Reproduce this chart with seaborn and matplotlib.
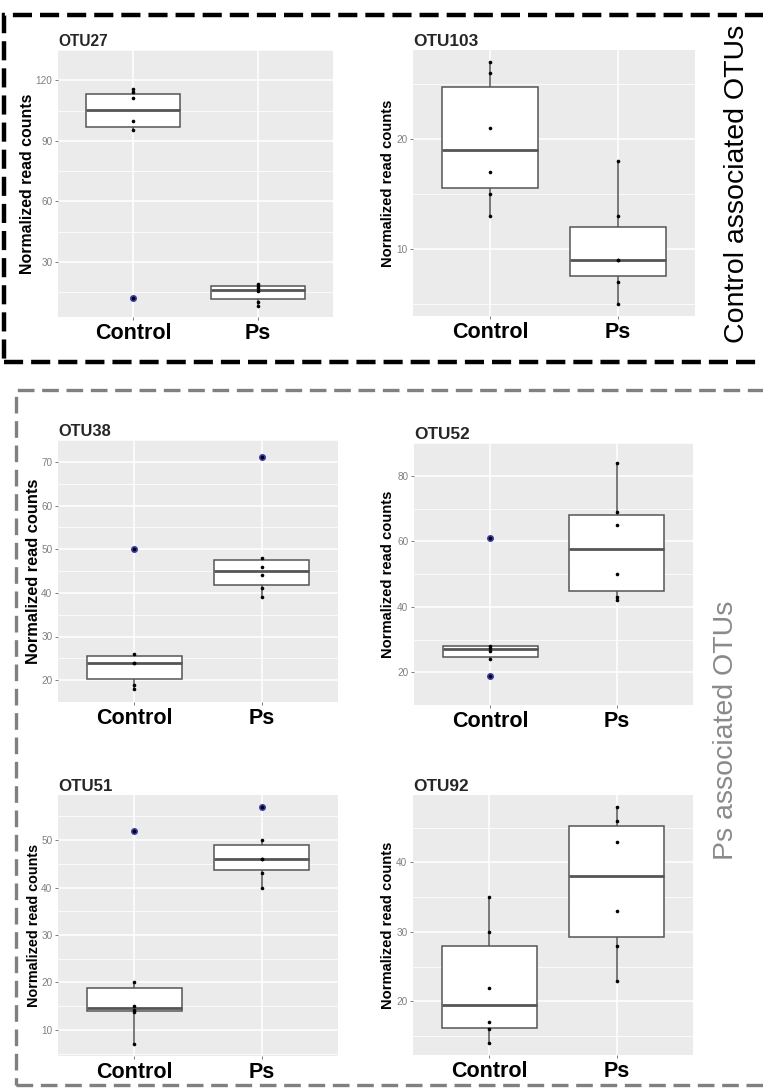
import numpy as np
import pandas as pd
import matplotlib
matplotlib.use("Agg")
import matplotlib.pyplot as plt
from matplotlib.patches import Rectangle
import seaborn as sns

# ---------------- data ----------------
groups = ["Control", "Ps"]
otu_names = ["OTU27", "OTU103", "OTU38", "OTU52", "OTU51", "OTU92"]

otu27_control = [12, 95.5, 100, 111, 114, 115.5]
otu27_ps = [8, 10, 15.5, 17, 18, 19]
otu103_control = [13, 15, 17, 21, 26, 27]
otu103_ps = [5, 7, 9, 9, 13, 18]
otu38_control = [18, 19, 24, 24, 26, 50]
otu38_ps = [39, 41, 44, 46, 48, 71]
otu52_control = [19, 24, 26.5, 27.5, 28, 61]
otu52_ps = [42, 43, 50, 65, 69, 84]
otu51_control = [7, 13.8, 14.2, 15, 20, 52]
otu51_ps = [40, 43, 46, 46, 50, 57]
otu92_control = [14, 16, 17, 22, 30, 35]
otu92_ps = [23, 28, 33, 43, 46, 48]

control_values = [otu27_control, otu103_control, otu38_control,
                  otu52_control, otu51_control, otu92_control]
ps_values = [otu27_ps, otu103_ps, otu38_ps, otu52_ps, otu51_ps, otu92_ps]

yticks_otu27 = [30, 60, 90, 120]
yticks_otu103 = [10, 20]
yticks_otu38 = [20, 30, 40, 50, 60, 70]
yticks_otu52 = [20, 40, 60, 80]
yticks_otu51 = [10, 20, 30, 40, 50]
yticks_otu92 = [20, 30, 40]
yticks_all = [yticks_otu27, yticks_otu103, yticks_otu38,
              yticks_otu52, yticks_otu51, yticks_otu92]

ylabel_text = "Normalized read counts"
group_labels = ["Control associated OTUs", "Ps associated OTUs"]

# ---------------- style ----------------
W, H = 763, 1089
sns.set_theme(style="darkgrid", rc={"axes.facecolor": "#EBEBEB",
                                    "grid.color": "white"})
plt.rcParams["font.family"] = ["Liberation Sans", "DejaVu Sans"]

fig = plt.figure(figsize=(W / 100, H / 100), dpi=100)
fig.patch.set_facecolor("white")

# panel boxes in pixels: left, top, right, bottom
panel_px = [(58, 50, 333, 317), (413, 50, 695, 316),
            (58, 440, 338, 702), (414, 443, 693, 705),
            (58, 795, 338, 1056), (413, 795, 693, 1055)]
label_x = [-0.111, -0.089, -0.086, -0.093, -0.086, -0.091]
label_fs = [11.4, 10.6, 11.8, 10.6, 10.4, 10.6]
title_fs = [11.2, 12.4, 11.8, 12.4, 12.2, 12.4]

line_col = "#555555"
outlier_col = "#3A3AA6"

for i, name in enumerate(otu_names):
    l, t, r, b = panel_px[i]
    ax = fig.add_axes([l / W, 1 - b / H, (r - l) / W, (b - t) / H])
    c = control_values[i]
    p = ps_values[i]
    df = pd.DataFrame({"group": [groups[0]] * len(c) + [groups[1]] * len(p),
                       "value": list(c) + list(p)})
    sns.boxplot(data=df, x="group", y="value", order=groups, ax=ax,
                width=0.75, color="white", saturation=1,
                linecolor=line_col, linewidth=1.1, showcaps=False,
                fliersize=4.0,
                flierprops=dict(marker="o", markerfacecolor=outlier_col,
                                markeredgecolor=outlier_col),
                medianprops=dict(linewidth=2.0, color=line_col))
    sns.stripplot(data=df, x="group", y="value", order=groups, ax=ax,
                  jitter=False, color="black", size=2.6, zorder=5)

    vals = np.array(list(c) + list(p), dtype=float)
    vmin, vmax = vals.min(), vals.max()
    rng = vmax - vmin
    ax.set_ylim(vmin - 0.05 * rng, vmax + 0.05 * rng)
    ax.set_xlim(-0.6, 1.6)

    yt = yticks_all[i]
    ax.set_yticks(yt)
    ax.set_yticklabels([str(v) for v in yt])
    step = yt[1] - yt[0]
    minor = [v + step / 2 for v in [yt[0] - step] + yt]
    ax.set_yticks(minor, minor=True)
    ax.set_xticks([0, 1])
    ax.set_xticklabels(groups)

    ax.set_axisbelow(True)
    ax.grid(which="major", color="white", linewidth=1.1)
    ax.grid(which="minor", axis="y", color="white", linewidth=0.55)
    ax.grid(which="minor", axis="x", visible=False)
    for s in ax.spines.values():
        s.set_visible(False)

    ax.tick_params(axis="y", which="major", labelsize=7.2, labelcolor="#808080",
                   length=2.5, width=0.6, color="#666666", pad=1.5, left=True)
    ax.tick_params(axis="y", which="minor", length=0, left=False)
    ax.tick_params(axis="x", which="major", labelsize=15.5, labelcolor="black",
                   length=2.5, width=0.6, color="#666666", pad=1.5, bottom=True)
    for lab in ax.get_xticklabels():
        lab.set_fontweight("bold")

    ax.set_xlabel("")
    ax.set_ylabel(ylabel_text, fontsize=label_fs[i], fontweight="bold",
                  color="black")
    ax.yaxis.set_label_coords(label_x[i], 0.5)
    ax.yaxis.label.set_verticalalignment("center")
    ax.set_title(name, loc="left", fontsize=title_fs[i], fontweight="bold",
                 pad=3)

# dashed group frames
frame_black = Rectangle((4 / W, 1 - 362 / H), 800 / W, (362 - 15) / H,
                        transform=fig.transFigure, fill=False,
                        edgecolor="black", linewidth=3.2,
                        linestyle=(0, (4.3, 1.8)), clip_on=False)
frame_gray = Rectangle((16 / W, 1 - 1085 / H), 800 / W, (1085 - 390) / H,
                       transform=fig.transFigure, fill=False,
                       edgecolor="#808080", linewidth=2.4,
                       linestyle=(0, (5.0, 2.3)), clip_on=False)
fig.add_artist(frame_black)
fig.add_artist(frame_gray)

fig.text(737 / W, 1 - 184 / H, group_labels[0], rotation=90, fontsize=20.5,
         color="black", ha="center", va="center")
fig.text(726 / W, 1 - 730 / H, group_labels[1], rotation=90, fontsize=20.5,
         color="#8A8A8A", ha="center", va="center")

fig.savefig("out.png", dpi=100, facecolor="white")
